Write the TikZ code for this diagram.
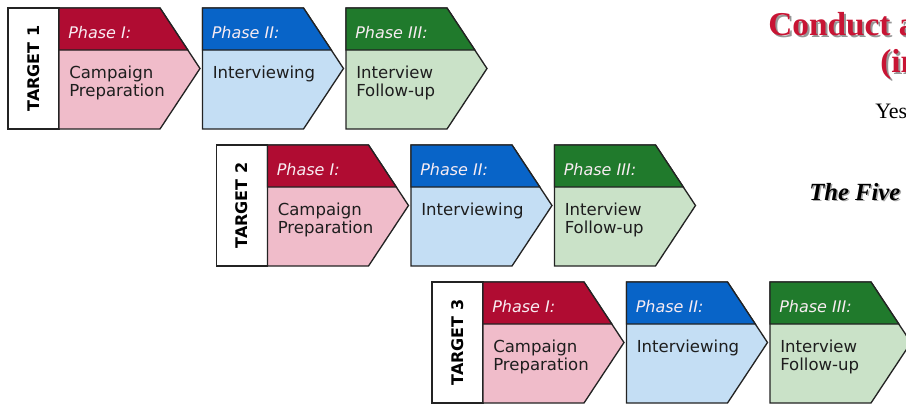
\documentclass[tikz,border=0pt]{standalone}
\usepackage{fontspec}
\setmainfont{Liberation Serif}
\setsansfont{DejaVu Sans}
\usepackage{tikz}

\tikzset{
  outline/.style={draw={rgb, 255:red, 35; green, 35; blue, 35 }, line width=1pt, line join=miter},
  labelbox/.style={outline, fill=white},
  redbody/.style={outline, fill={rgb, 255:red, 240; green, 188; blue, 202 }},
  redhead/.style={outline, fill={rgb, 255:red, 176; green, 12; blue, 50 }},
  bluebody/.style={outline, fill={rgb, 255:red, 196; green, 222; blue, 244 }},
  bluehead/.style={outline, fill={rgb, 255:red, 8; green, 100; blue, 200 }},
  greenbody/.style={outline, fill={rgb, 255:red, 202; green, 226; blue, 200 }},
  greenhead/.style={outline, fill={rgb, 255:red, 32; green, 122; blue, 44 }},
  targettext/.style={rotate=90, inner sep=0pt, font=\sffamily\bfseries\fontsize{12}{12}\selectfont},
  phasetitle/.style={anchor=base west, inner sep=0pt, text={rgb, 255:red, 248; green, 236; blue, 242 }, font=\sffamily\itshape\fontsize{12}{12}\selectfont},
  phasetext/.style={anchor=north west, inner sep=0pt, align=left, text={rgb, 255:red, 30; green, 30; blue, 30 }, font=\sffamily\fontsize{12.4}{13.5}\selectfont},
  titlered/.style={anchor=base west, inner sep=0pt, text={rgb, 255:red, 200; green, 20; blue, 52 }, font=\bfseries\fontsize{25}{25}\selectfont},
  titleshadow/.style={titlered, text={rgb, 255:red, 150; green, 150; blue, 150 }},
}

\begin{document}
\begin{tikzpicture}[x=0.75pt,y=0.75pt,yscale=-1,xscale=1]
\useasboundingbox (0,0) rectangle (906,405);
\clip (0,0) rectangle (906,405);

%Row: target 1
\begin{scope}[shift={(8,8)}]
  \draw [labelbox] (0,0) rectangle (51,121);
  \node [targettext] (target1) at (25.5,60.5) {TARGET 1};
  %Shape: Phase I
  \draw [redbody] (51,0) -- (152,0) -- (192,60.5) -- (152,121) -- (51,121) -- cycle;
  \draw [redhead] (51,0) -- (152,0) -- (179.8,42) -- (51,42) -- cycle;
  \node [phasetitle] (t1phaseA) at (60,30) {Phase I:};
  \node [phasetext] (t1textA) at (61,58) {Campaign\\Preparation};
  %Shape: Phase II
  \draw [bluebody] (194.5,0) -- (295.5,0) -- (335.5,60.5) -- (295.5,121) -- (194.5,121) -- cycle;
  \draw [bluehead] (194.5,0) -- (295.5,0) -- (323.3,42) -- (194.5,42) -- cycle;
  \node [phasetitle] (t1phaseB) at (203.5,30) {Phase II:};
  \node [phasetext] (t1textB) at (204.5,58) {Interviewing};
  %Shape: Phase III
  \draw [greenbody] (338,0) -- (439,0) -- (479,60.5) -- (439,121) -- (338,121) -- cycle;
  \draw [greenhead] (338,0) -- (439,0) -- (466.8,42) -- (338,42) -- cycle;
  \node [phasetitle] (t1phaseC) at (347,30) {Phase III:};
  \node [phasetext] (t1textC) at (348,58) {Interview\\Follow-up};
\end{scope}

%Row: target 2
\begin{scope}[shift={(216.5,145)}]
  \draw [labelbox] (0,0) rectangle (51,121);
  \node [targettext] (target2) at (25.5,60.5) {TARGET 2};
  %Shape: Phase I
  \draw [redbody] (51,0) -- (152,0) -- (192,60.5) -- (152,121) -- (51,121) -- cycle;
  \draw [redhead] (51,0) -- (152,0) -- (179.8,42) -- (51,42) -- cycle;
  \node [phasetitle] (t2phaseA) at (60,30) {Phase I:};
  \node [phasetext] (t2textA) at (61,58) {Campaign\\Preparation};
  %Shape: Phase II
  \draw [bluebody] (194.5,0) -- (295.5,0) -- (335.5,60.5) -- (295.5,121) -- (194.5,121) -- cycle;
  \draw [bluehead] (194.5,0) -- (295.5,0) -- (323.3,42) -- (194.5,42) -- cycle;
  \node [phasetitle] (t2phaseB) at (203.5,30) {Phase II:};
  \node [phasetext] (t2textB) at (204.5,58) {Interviewing};
  %Shape: Phase III
  \draw [greenbody] (338,0) -- (439,0) -- (479,60.5) -- (439,121) -- (338,121) -- cycle;
  \draw [greenhead] (338,0) -- (439,0) -- (466.8,42) -- (338,42) -- cycle;
  \node [phasetitle] (t2phaseC) at (347,30) {Phase III:};
  \node [phasetext] (t2textC) at (348,58) {Interview\\Follow-up};
\end{scope}

%Row: target 3
\begin{scope}[shift={(432,282)}]
  \draw [labelbox] (0,0) rectangle (51,121);
  \node [targettext] (target3) at (25.5,60.5) {TARGET 3};
  %Shape: Phase I
  \draw [redbody] (51,0) -- (152,0) -- (192,60.5) -- (152,121) -- (51,121) -- cycle;
  \draw [redhead] (51,0) -- (152,0) -- (179.8,42) -- (51,42) -- cycle;
  \node [phasetitle] (t3phaseA) at (60,30) {Phase I:};
  \node [phasetext] (t3textA) at (61,58) {Campaign\\Preparation};
  %Shape: Phase II
  \draw [bluebody] (194.5,0) -- (295.5,0) -- (335.5,60.5) -- (295.5,121) -- (194.5,121) -- cycle;
  \draw [bluehead] (194.5,0) -- (295.5,0) -- (323.3,42) -- (194.5,42) -- cycle;
  \node [phasetitle] (t3phaseB) at (203.5,30) {Phase II:};
  \node [phasetext] (t3textB) at (204.5,58) {Interviewing};
  %Shape: Phase III
  \draw [greenbody] (338,0) -- (439,0) -- (479,60.5) -- (439,121) -- (338,121) -- cycle;
  \draw [greenhead] (338,0) -- (439,0) -- (466.8,42) -- (338,42) -- cycle;
  \node [phasetitle] (t3phaseC) at (347,30) {Phase III:};
  \node [phasetext] (t3textC) at (348,58) {Interview\\Follow-up};
\end{scope}

% Text Node
\node [titleshadow] (conductshadow) at (770,37) {Conduct a};
\node [titlered] (conduct) at (768,35) {Conduct a};
% Text Node
\node [titleshadow] (inshadow) at (882,74) {(in};
\node [titlered] (in) at (880,72) {(in};
% Text Node
\node [anchor=base west, inner sep=0pt, font=\fontsize{16.5}{16.5}\selectfont] (yes) at (875,118) {Yes};
% Text Node
\node [anchor=base west, inner sep=0pt, text={rgb, 255:red, 170; green, 170; blue, 170 }, font=\bfseries\itshape\fontsize{18.5}{18.5}\selectfont] (fiveshadow) at (810.5,201.5) {The Five};
\node [anchor=base west, inner sep=0pt, font=\bfseries\itshape\fontsize{18.5}{18.5}\selectfont] (five) at (809,200) {The Five};

\end{tikzpicture}
\end{document}
